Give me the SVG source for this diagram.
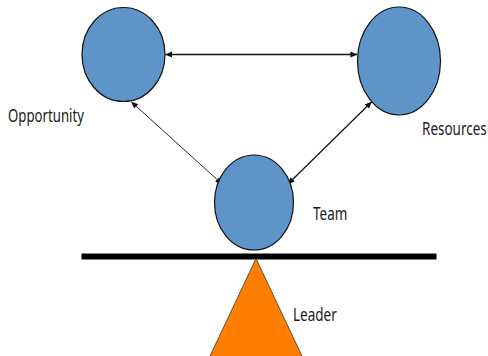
<svg xmlns="http://www.w3.org/2000/svg" width="488" height="356" viewBox="0 0 488 356">
<style>
.c{fill:#5f94c9;stroke:#111;stroke-width:1.2}
.l{font-family:"Noto Sans","DejaVu Sans",sans-serif;font-size:19px;fill:#1a1a1a}
.k{fill:none;stroke:#111;marker-start:url(#a);marker-end:url(#a)}
</style>
<defs><marker id="a" viewBox="0 0 8 8" refX="7.5" refY="4" markerWidth="7" markerHeight="7" markerUnits="userSpaceOnUse" orient="auto-start-reverse"><path d="M0 0.5L8 4L0 7.5z" fill="#111"/></marker></defs>
<rect width="488" height="356" fill="#fff"/>
<g id="connectors">
<path class="k" stroke-width="1.4" d="M165.5 54.5H357"/>
<path class="k" stroke-width="0.9" d="M131.5 102L222 184"/>
<path class="k" stroke-width="1.2" d="M371.5 102L288 184"/>
</g>
<g id="opportunity"><ellipse class="c" cx="123.5" cy="54.5" rx="41.5" ry="47"/><text class="l" transform="translate(8 121.5) scale(.695 1)">Opportunity</text></g>
<g id="resources"><ellipse class="c" cx="399" cy="61" rx="41.5" ry="54"/><text class="l" transform="translate(422 135) scale(.71 1)">Resources</text></g>
<g id="team"><ellipse class="c" cx="254" cy="202.5" rx="39.5" ry="47.5"/><text class="l" transform="translate(313 220) scale(.71 1)">Team</text></g>
<g id="bar"><rect x="81.5" y="253.5" width="355" height="6" fill="#000"/></g>
<g id="leader"><path d="M256 258.5L304.3 361H207.7z" fill="#ff7d00" stroke="#333" stroke-width="0.8"/><text class="l" transform="translate(293 321) scale(.71 1)">Leader</text></g>
</svg>
